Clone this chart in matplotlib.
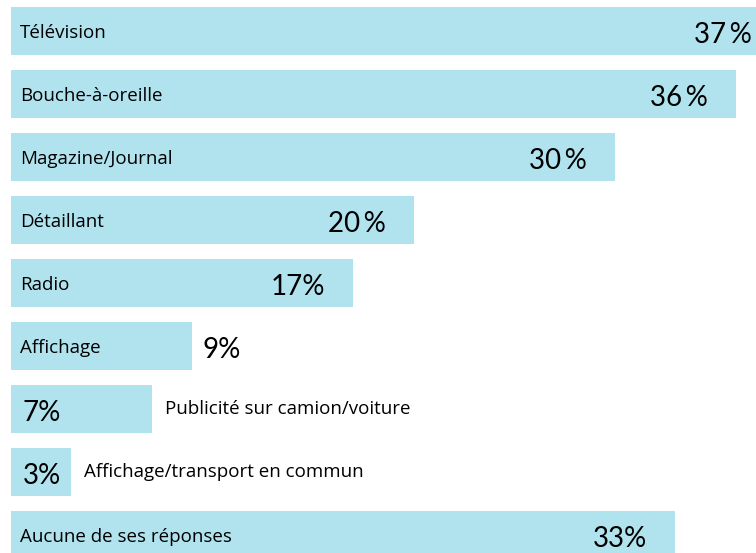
import matplotlib
matplotlib.use("Agg")
from matplotlib import pyplot as plt

# data (top to bottom)
categories = [
    "Télévision",
    "Bouche-à-oreille",
    "Magazine/Journal",
    "Détaillant",
    "Radio",
    "Affichage",
    "Publicité sur camion/voiture",
    "Affichage/transport en commun",
    "Aucune de ses réponses",
]
values = [37, 36, 30, 20, 17, 9, 7, 3, 33]
pct_labels = ["37\u2009%", "36\u2009%", "30\u2009%", "20\u2009%", "17%", "9%", "7%", "3%", "33%"]

bar_color = "#b1e3ef"
label_font = "Open Sans"
pct_font = "Lato"
label_size = 13.5
pct_size = 20

W, H = 756, 553
fig = plt.figure(figsize=(W / 100, H / 100), dpi=100, facecolor="white")
left = 11 / W
ax = fig.add_axes([left, 0, 1 - left, 1])

pitch, first = 63, 31
ypos = list(range(len(values)))
ax.barh(ypos, values, height=48 / pitch, color=bar_color, left=0)
ax.set_xlim(0, max(values))
ax.set_ylim((H - first) / pitch, -first / pitch)
ax.axis("off")

# pixel offsets in data units
px = max(values) / (W * (1 - left))
py = 1 / pitch
lab_dy = 7 * py
pct_dy = 12 * py

for y, v, cat, pct in zip(ypos, values, categories, pct_labels):
    if v >= 10:
        ax.text(9 * px, y + lab_dy, cat, va="baseline", ha="left",
                fontsize=label_size, family=label_font, color="black")
        pad = 4 if v == max(values) else 28
        ax.text(v - pad * px, y + pct_dy, pct, va="baseline", ha="right",
                fontsize=pct_size, family=pct_font, color="black")
    elif v >= 9:
        ax.text(9 * px, y + lab_dy, cat, va="baseline", ha="left",
                fontsize=label_size, family=label_font, color="black")
        ax.text(v + 10 * px, y + pct_dy, pct, va="baseline", ha="left",
                fontsize=pct_size, family=pct_font, color="black")
    else:
        ax.text(12 * px, y + pct_dy, pct, va="baseline", ha="left",
                fontsize=pct_size, family=pct_font, color="black")
        ax.text(v + 13 * px, y + lab_dy - 2 * py, cat, va="baseline", ha="left",
                fontsize=label_size, family=label_font, color="black")

fig.savefig("out.png", dpi=100, facecolor="white")
